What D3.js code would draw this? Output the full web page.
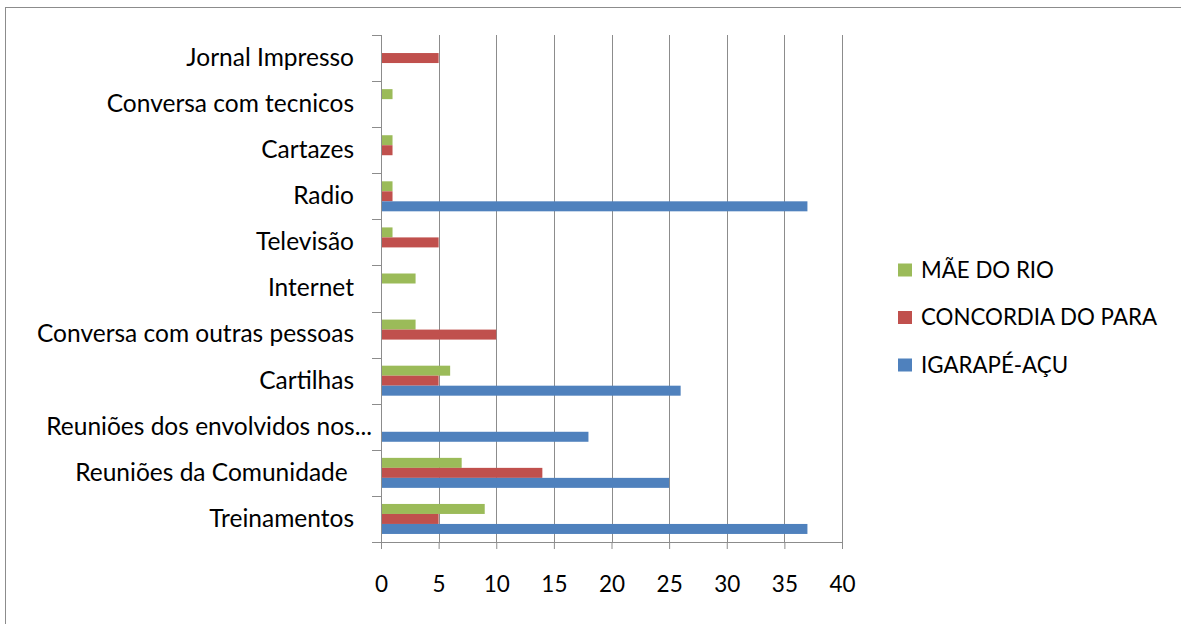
<!DOCTYPE html>
<html>
<head>
<meta charset="utf-8">
<script src="https://cdn.jsdelivr.net/npm/d3@7"></script>
<style>
  body { margin: 0; background: #fff; }
  text { font-family: Lato, "Open Sans", sans-serif; fill: #000; white-space: pre; }
</style>
</head>
<body>
<div id="chart"></div>
<script>
// categories top to bottom
const categories = [
    "Jornal Impresso",
    "Conversa com tecnicos",
    "Cartazes",
    "Radio",
    "Televisão",
    "Internet",
    "Conversa com outras pessoas",
    "Cartilhas",
    "Reuniões dos envolvidos nos...",
    "Reuniões da Comunidade ",
    "Treinamentos"
];
const seriesNames = ["MÃE DO RIO", "CONCORDIA DO PARA", "IGARAPÉ-AÇU"];
const seriesColors = ["#9bbb59", "#c0504d", "#4f81bd"];
const maeDoRio      = [0, 1, 1, 1, 1, 3, 3, 6, 0, 7, 9];
const concordiaPara = [5, 0, 1, 1, 5, 0, 10, 5, 0, 14, 5];
const igarapeAcu    = [0, 0, 0, 37, 0, 0, 0, 26, 18, 25, 37];
const xTicks = [0, 5, 10, 15, 20, 25, 30, 35, 40];

const seriesValues = [maeDoRio, concordiaPara, igarapeAcu];

const width = 1181, height = 624;
const margin = {top: 35, left: 381, right: 1181 - 842, bottom: 624 - 542};
const plotWidth = width - margin.left - margin.right,
      plotHeight = height - margin.top - margin.bottom;

const svg = d3.select("#chart").append("svg")
    .attr("width", width)
    .attr("height", height);

// outer chart frame
svg.append("rect")
    .attr("x", 5.5).attr("y", 7.5)
    .attr("width", width).attr("height", height)
    .attr("fill", "none")
    .attr("stroke", "#8c8c8c");

const g = svg.append("g")
    .attr("transform", "translate(" + margin.left + "," + margin.top + ")");

const x = d3.scaleLinear().domain([0, 40]).range([0, plotWidth]);
const y = d3.scaleBand().domain(categories).range([0, plotHeight]);
const inner = d3.scaleBand().domain(seriesNames)
    .range([y.bandwidth() / 2 - 15, y.bandwidth() / 2 + 15]);

// vertical gridlines
g.selectAll(".grid").data(xTicks.slice(1)).enter().append("line")
    .attr("x1", d => Math.round(x(d)) + 0.5)
    .attr("x2", d => Math.round(x(d)) + 0.5)
    .attr("y1", 0).attr("y2", plotHeight)
    .attr("stroke", "#8c8c8c");

// bars
seriesNames.forEach(function (name, s) {
    g.selectAll(".bar-" + s)
        .data(categories.map((c, i) => ({cat: c, v: seriesValues[s][i]})).filter(d => d.v > 0))
        .enter().append("rect")
        .attr("x", x(0))
        .attr("y", d => y(d.cat) + inner(name))
        .attr("width", d => x(d.v) - x(0))
        .attr("height", inner.bandwidth())
        .attr("fill", seriesColors[s]);
});

// y axis
const yAxis = g.append("g")
    .call(d3.axisLeft(y).tickSize(0).tickPadding(27));
yAxis.select(".domain").remove();
yAxis.selectAll("text").style("font-size", "24.5px").attr("font-family", null);
// the truncated label runs into the axis in the original
yAxis.selectAll("text").filter(d => d.endsWith("...")).attr("dx", 18);
g.selectAll(".ytick").data(d3.range(categories.length + 1)).enter().append("line")
    .attr("x1", -9).attr("x2", 0)
    .attr("y1", d => Math.round(d * y.step()) + 0.5)
    .attr("y2", d => Math.round(d * y.step()) + 0.5)
    .attr("stroke", "#8c8c8c");
g.append("line")
    .attr("x1", 0.5).attr("x2", 0.5)
    .attr("y1", 0).attr("y2", plotHeight)
    .attr("stroke", "#8c8c8c");

// x axis
const xAxis = g.append("g")
    .attr("transform", "translate(0," + plotHeight + ")")
    .call(d3.axisBottom(x).tickValues(xTicks).tickSize(7).tickPadding(27));
xAxis.select(".domain").attr("stroke", "#8c8c8c");
xAxis.selectAll(".tick line").attr("stroke", "#8c8c8c");
xAxis.selectAll("text").style("font-size", "22.5px").attr("font-family", null);

// legend
const legend = svg.append("g").attr("transform", "translate(898,270)");
seriesNames.forEach(function (name, s) {
    const row = legend.append("g").attr("transform", "translate(0," + (s * 47.5) + ")");
    row.append("rect")
        .attr("x", 0).attr("y", -6.5)
        .attr("width", 14).attr("height", 13)
        .attr("fill", seriesColors[s]);
    row.append("text")
        .attr("x", 23).attr("y", 0)
        .attr("dy", "0.35em")
        .style("font-size", "22.3px")
        .text(name);
});
</script>
</body>
</html>
